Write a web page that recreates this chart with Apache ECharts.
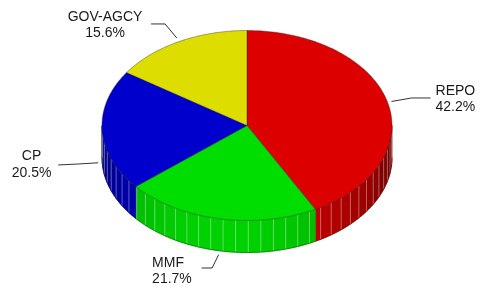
<!DOCTYPE html>
<html><head><meta charset="utf-8">
<script src="https://cdn.jsdelivr.net/npm/echarts@6/dist/echarts.min.js"></script>
<style>html,body{margin:0;padding:0;background:#fff}#c{width:480px;height:286px}</style>
</head><body><div id="c"></div>
<script>
// ---- data ----
const categories = ['REPO', 'MMF', 'CP', 'GOV-AGCY'];
const values = [42.2, 21.7, 20.5, 15.6];

// ---- styles / layout ----
const colors = ['#dd0000', '#00dd00', '#0000cc', '#dddd00'];
const PIE = { cx: 247, cy: 125.5, rx: 145, ry: 95, depth: 32 };
const LABEL_LAYOUT = [
  { elbow: [20, -3.5], end: [19, 0], text: [5, 1], align: 'left' },
  { elbow: [-6.5, 13.3], end: [-10.5, 0], text: [-49.5, 3.3], align: 'left' },
  { elbow: [-20, 1.2], end: [-20, 1], text: [-26.7, -0.5], align: 'center' },
  { elbow: [-11.8, -14.2], end: [-14, 0], text: [-46, 1], align: 'center' }
];

const total = values.reduce((a, b) => a + b, 0);
const starts = [];
let acc = 0;
values.forEach(v => { starts.push(acc / total * 2 * Math.PI); acc += v; });

function pt(t, dy) {
  return [PIE.cx + PIE.rx * Math.sin(t), PIE.cy - PIE.ry * Math.cos(t) + (dy || 0)];
}
function shade(hex, f) {
  const n = parseInt(hex.slice(1), 16);
  const r = Math.min(255, Math.round(((n >> 16) & 255) * f));
  const g = Math.min(255, Math.round(((n >> 8) & 255) * f));
  const b = Math.min(255, Math.round((n & 255) * f));
  return 'rgb(' + r + ',' + g + ',' + b + ')';
}
function lightF(t) {
  const d = t - 190 * Math.PI / 180;
  return Math.max(0.42, 0.5 + 0.45 * Math.cos(d));
}

function renderItem(params, api) {
  const i = params.dataIndex;
  const v = api.value(0);
  const a = starts[i], b = a + v / total * 2 * Math.PI;
  const col = colors[i];
  const children = [];
  const D = PIE.depth;

  // side wall (front half only)
  const lo = Math.max(a, Math.PI / 2), hi = Math.min(b, 3 * Math.PI / 2);
  if (hi > lo) {
    const step = 5 * Math.PI / 180, off = -0.5 * Math.PI / 180;
    const edges = [lo];
    for (let k = Math.ceil((lo - off) / step); ; k++) {
      const t = off + k * step;
      if (t >= hi) break;
      if (t > lo + 1e-6) edges.push(t);
    }
    edges.push(hi);
    for (let j = 0; j < edges.length - 1; j++) {
      const t0 = edges[j], t1 = edges[j + 1];
      const top = [], bot = [];
      const n = 4;
      for (let s = 0; s <= n; s++) {
        const t = t0 + (t1 - t0) * s / n;
        top.push(pt(t));
        bot.push(pt(t, D));
      }
      const c = shade(col, lightF((t0 + t1) / 2));
      children.push({
        type: 'polygon', z2: 1,
        shape: { points: top.concat(bot.reverse()) },
        style: { fill: c, stroke: c, lineWidth: 0.6 }
      });
    }
    for (let j = 1; j < edges.length - 1; j++) {
      const p0 = pt(edges[j]), p1 = pt(edges[j], D);
      children.push({
        type: 'line', z2: 2,
        shape: { x1: p0[0], y1: p0[1], x2: p1[0], y2: p1[1] },
        style: { stroke: 'rgba(255,255,255,0.35)', lineWidth: 1 }
      });
    }
    const bl = [];
    for (let t = lo; t <= hi + 1e-9; t += (hi - lo) / 60) bl.push(pt(t, D));
    children.push({
      type: 'polyline', z2: 3,
      shape: { points: bl },
      style: { stroke: shade(col, 0.5), lineWidth: 0.7, fill: null }
    });
  }

  // top face
  const tp = [[PIE.cx, PIE.cy]];
  const nSeg = Math.max(8, Math.ceil((b - a) / (Math.PI / 180)));
  for (let s = 0; s <= nSeg; s++) tp.push(pt(a + (b - a) * s / nSeg));
  children.push({
    type: 'polygon', z2: 10,
    shape: { points: tp },
    style: { fill: col, stroke: 'rgba(30,30,30,0.55)', lineWidth: 0.7, lineJoin: 'round' }
  });

  // leader + label
  const m = (a + b) / 2;
  const front = Math.cos(m) < 0;
  const anc = pt(m, front ? D : 0);
  const dx = Math.sin(m), dy = -Math.cos(m);
  const start = [anc[0] + 4 * dx, anc[1] + 4 * dy];
  const L = LABEL_LAYOUT[i];
  const elbow = [start[0] + L.elbow[0], start[1] + L.elbow[1]];
  const end = [elbow[0] + L.end[0], elbow[1] + L.end[1]];
  children.push({
    type: 'polyline', z2: 20,
    shape: { points: [start, elbow, end] },
    style: { stroke: '#333', lineWidth: 1, fill: null }
  });
  children.push({
    type: 'text', z2: 21,
    style: {
      x: end[0] + L.text[0], y: end[1] + L.text[1],
      text: categories[i] + '\n' + v.toFixed(1) + '%',
      align: L.align, verticalAlign: 'middle',
      fontSize: 14, fontFamily: 'Liberation Sans, Arial, sans-serif',
      lineHeight: 16.5, fill: '#1a1a1a'
    }
  });
  return { type: 'group', children: children };
}

const chart = echarts.init(document.getElementById('c'), null, { renderer: 'canvas' });
chart.setOption({
  animation: false,
  backgroundColor: '#ffffff',
  series: [{
    type: 'custom',
    coordinateSystem: 'none',
    renderItem: renderItem,
    data: values.map(v => [v])
  }]
});
</script>
</body></html>
